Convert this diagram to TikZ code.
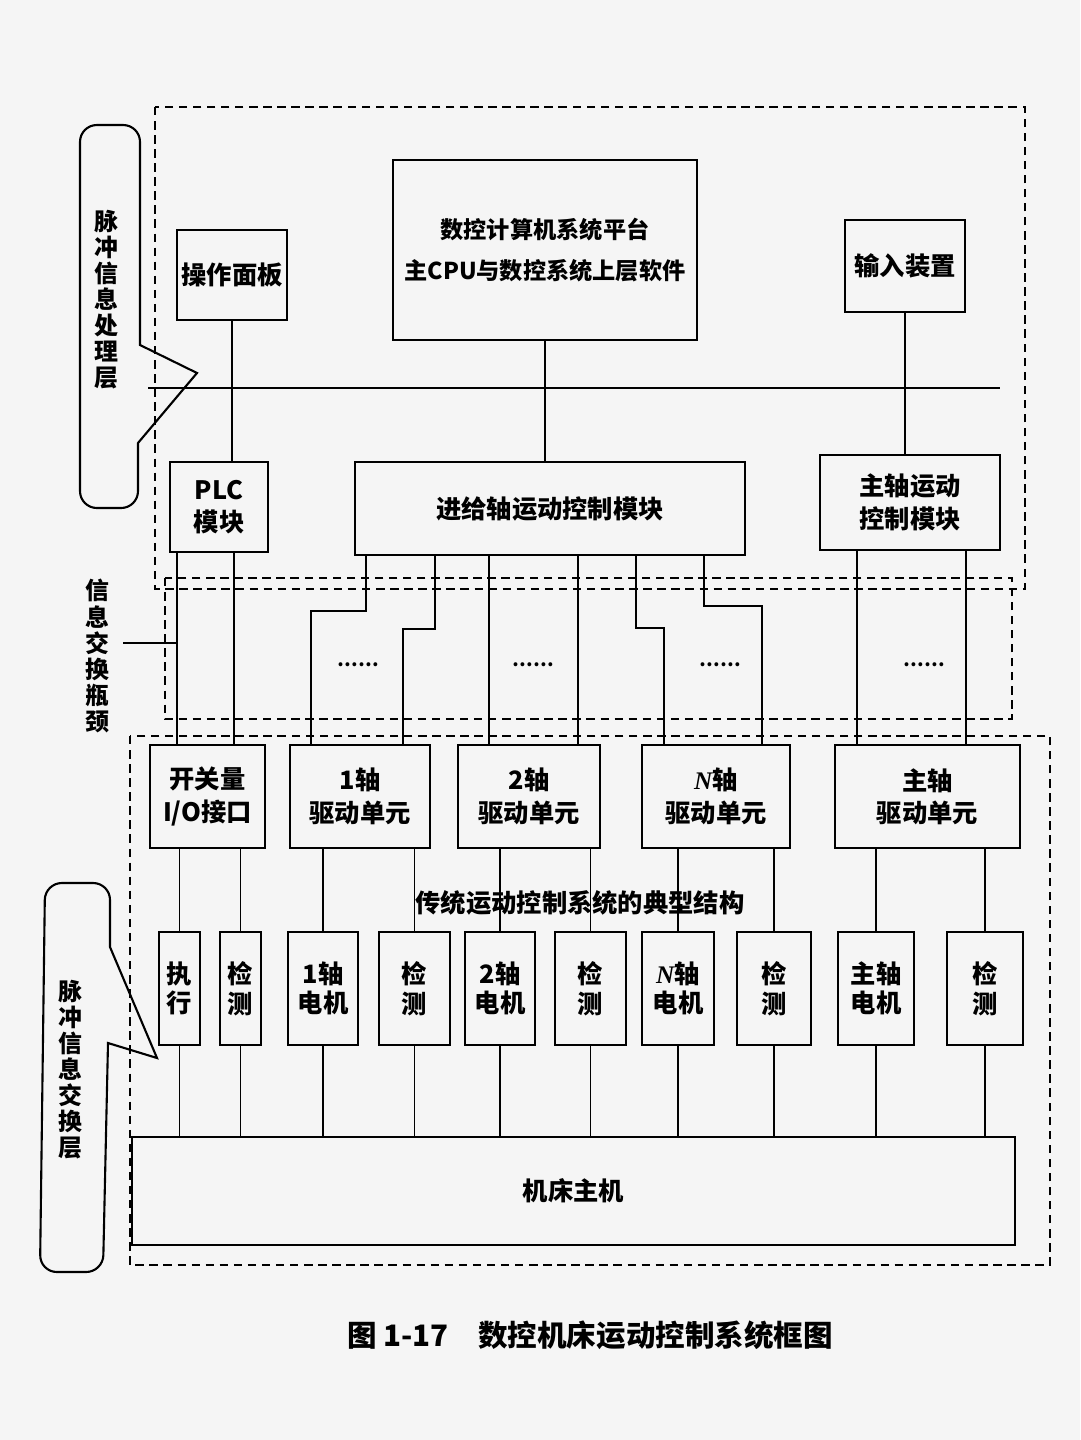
\documentclass[tikz,border=0pt]{standalone}
\usepackage{fontspec}
\setmainfont{Noto Sans CJK SC}
\newfontfamily\latinit{Liberation Serif}
\newcommand{\Nit}{{\latinit\itshape N}}
\begin{document}
\begin{tikzpicture}[x=0.025cm,y=-0.025cm,
  box/.style={draw,line width=1.4pt,align=center,inner sep=0pt,font=\fontsize{18}{23}\selectfont\bfseries},
  vbox/.style={box,font=\fontsize{18}{21}\selectfont\bfseries},
  dbox/.style={draw,dashed,line width=1pt,dash pattern=on 6pt off 4pt},
  wire/.style={line width=1.2pt},
  callout/.style={draw,line width=1.5pt},
  vtext/.style={align=center,inner sep=0pt,font=\fontsize{17}{18.5}\selectfont\bfseries},
  dots/.style={font=\fontsize{13}{13}\selectfont\bfseries,inner sep=0pt}]
\fill[gray!8] (0,0) rectangle (1080,1440);
\useasboundingbox (0,0) rectangle (1080,1440);
% dashed regions
\draw[dbox] (155,107) rectangle (1025,589);
\draw[dbox] (165,578) rectangle (1012,719);
\draw[dbox] (130,736) rectangle (1050,1265);
% top nodes
\node[box,font=\fontsize{16.5}{21}\selectfont\bfseries,minimum width=304*0.025cm,minimum height=180*0.025cm] (plat) at (545,250) {数控计算机系统平台\\[8pt]主CPU与数控系统上层软件};
\node[box,minimum width=110*0.025cm,minimum height=90*0.025cm] (panel) at (232,275) {操作面板};
\node[box,minimum width=120*0.025cm,minimum height=92*0.025cm] (input) at (905,266) {输入装置};
\node[box,minimum width=98*0.025cm,minimum height=90*0.025cm] (plc) at (219,507) {PLC\\模块};
\node[box,minimum width=390*0.025cm,minimum height=93*0.025cm] (feed) at (550,508.5) {进给轴运动控制模块};
\node[box,minimum width=180*0.025cm,minimum height=95*0.025cm] (spm) at (910,502.5) {主轴运动\\控制模块};
% drives
\node[box,minimum width=115*0.025cm,minimum height=103*0.025cm] (io) at (207.5,796.5) {开关量\\I/O接口};
\node[box,minimum width=140*0.025cm,minimum height=103*0.025cm] (d1) at (360,796.5) {1轴\\驱动单元};
\node[box,minimum width=142*0.025cm,minimum height=103*0.025cm] (d2) at (529,796.5) {2轴\\驱动单元};
\node[box,minimum width=148*0.025cm,minimum height=103*0.025cm] (dN) at (716,796.5) {\Nit 轴\\驱动单元};
\node[box,minimum width=185*0.025cm,minimum height=103*0.025cm] (dS) at (927.5,796.5) {主轴\\驱动单元};
% motors
\node[vbox,minimum width=41*0.025cm,minimum height=113*0.025cm] (mE) at (179.5,988.5) {执\\行};
\node[vbox,minimum width=41*0.025cm,minimum height=113*0.025cm] (c0) at (240.5,988.5) {检\\测};
\node[vbox,minimum width=70*0.025cm,minimum height=113*0.025cm] (m1) at (323,988.5) {1轴\\电机};
\node[vbox,minimum width=71*0.025cm,minimum height=113*0.025cm] (c1) at (414.5,988.5) {检\\测};
\node[vbox,minimum width=70*0.025cm,minimum height=113*0.025cm] (m2) at (500,988.5) {2轴\\电机};
\node[vbox,minimum width=71*0.025cm,minimum height=113*0.025cm] (c2) at (590.5,988.5) {检\\测};
\node[vbox,minimum width=72*0.025cm,minimum height=113*0.025cm] (mN) at (678,988.5) {\Nit 轴\\电机};
\node[vbox,minimum width=74*0.025cm,minimum height=113*0.025cm] (cN) at (774,988.5) {检\\测};
\node[vbox,minimum width=76*0.025cm,minimum height=113*0.025cm] (mS) at (876,988.5) {主轴\\电机};
\node[vbox,minimum width=76*0.025cm,minimum height=113*0.025cm] (cS) at (985,988.5) {检\\测};
\node[box,minimum width=883*0.025cm,minimum height=108*0.025cm] (host) at (573.5,1191) {机床主机};
\node[font=\fontsize{18}{22}\selectfont\bfseries,inner sep=0pt] (title) at (580,903) {传统运动控制系统的典型结构};
% top wiring
\coordinate (busL) at (148,388);
\coordinate (busR) at (1000,388);
\draw[wire] (busL) -- (busR);
\draw[wire] (panel.south) -- (panel.south |- plc.north);
\draw[wire] (plat.south) -- (plat.south |- feed.north);
\draw[wire] (input.south) -- (input.south |- spm.north);
% middle wiring
\draw[wire] (plc.south west) ++(8,0) -- ++(0,193);
\draw[wire] (plc.south west) ++(65,0) -- ++(0,193);
\draw[wire] (feed.south west) ++(12,0) -- ++(0,55) -- ++(-55,0) -- ++(0,135);
\draw[wire] (feed.south west) ++(81,0) -- ++(0,73) -- ++(-32,0) -- ++(0,117);
\draw[wire] (feed.south west) ++(135,0) -- ++(0,190);
\draw[wire] (feed.south west) ++(224,0) -- ++(0,190);
\draw[wire] (feed.south west) ++(282,0) -- ++(0,72) -- ++(28,0) -- ++(0,118);
\draw[wire] (feed.south west) ++(350,0) -- ++(0,50) -- ++(58,0) -- ++(0,140);
\draw[wire] (spm.south west) ++(38,0) -- ++(0,195);
\draw[wire] (spm.south west) ++(147,0) -- ++(0,195);
\node[dots] (dt1) at (358,665) {……};
\node[dots] (dt2) at (533,665) {……};
\node[dots] (dt3) at (720,665) {……};
\node[dots] (dt4) at (924,665) {……};
% drive to motor
\foreach \d/\m in {io/mE,io/c0,d1/m1,d1/c1,d2/m2,d2/c2,dN/mN,dN/cN,dS/mS,dS/cS}
  \draw[wire] (\d.south -| \m.north) -- (\m.north);
\foreach \m in {mE,c0,m1,c1,m2,c2,mN,cN,mS,cS}
  \draw[wire] (\m.south) -- (\m.south |- host.north);
% callouts
\draw[callout] (140,345) -- (197,373) -- (138,443) [rounded corners=12pt] -- (138,508) -- (80,508) -- (80,125) -- (140,125) [sharp corners] -- (140,345) -- cycle;
\node[vtext] (lay1) at (106,300) {脉\\冲\\信\\息\\处\\理\\层};
\node[vtext] (lay2) at (97,656) {信\\息\\交\\换\\瓶\\颈};
\coordinate (ptr) at (123,643);
\draw[wire] (ptr) -- ++(55,0);
\draw[callout] (110,947) -- (157,1058) -- (108,1043) [rounded corners=12pt] -- (103,1272) -- (40,1272) -- (45,883) -- (110,883) [sharp corners] -- (110,947) -- cycle;
\node[vtext] (lay3) at (70,1070) {脉\\冲\\信\\息\\交\\换\\层};
\node[font=\fontsize{21}{24}\selectfont\bfseries,inner sep=0pt] (cap) at (590,1335) {图 1-17\quad 数控机床运动控制系统框图};
\end{tikzpicture}
\end{document}
